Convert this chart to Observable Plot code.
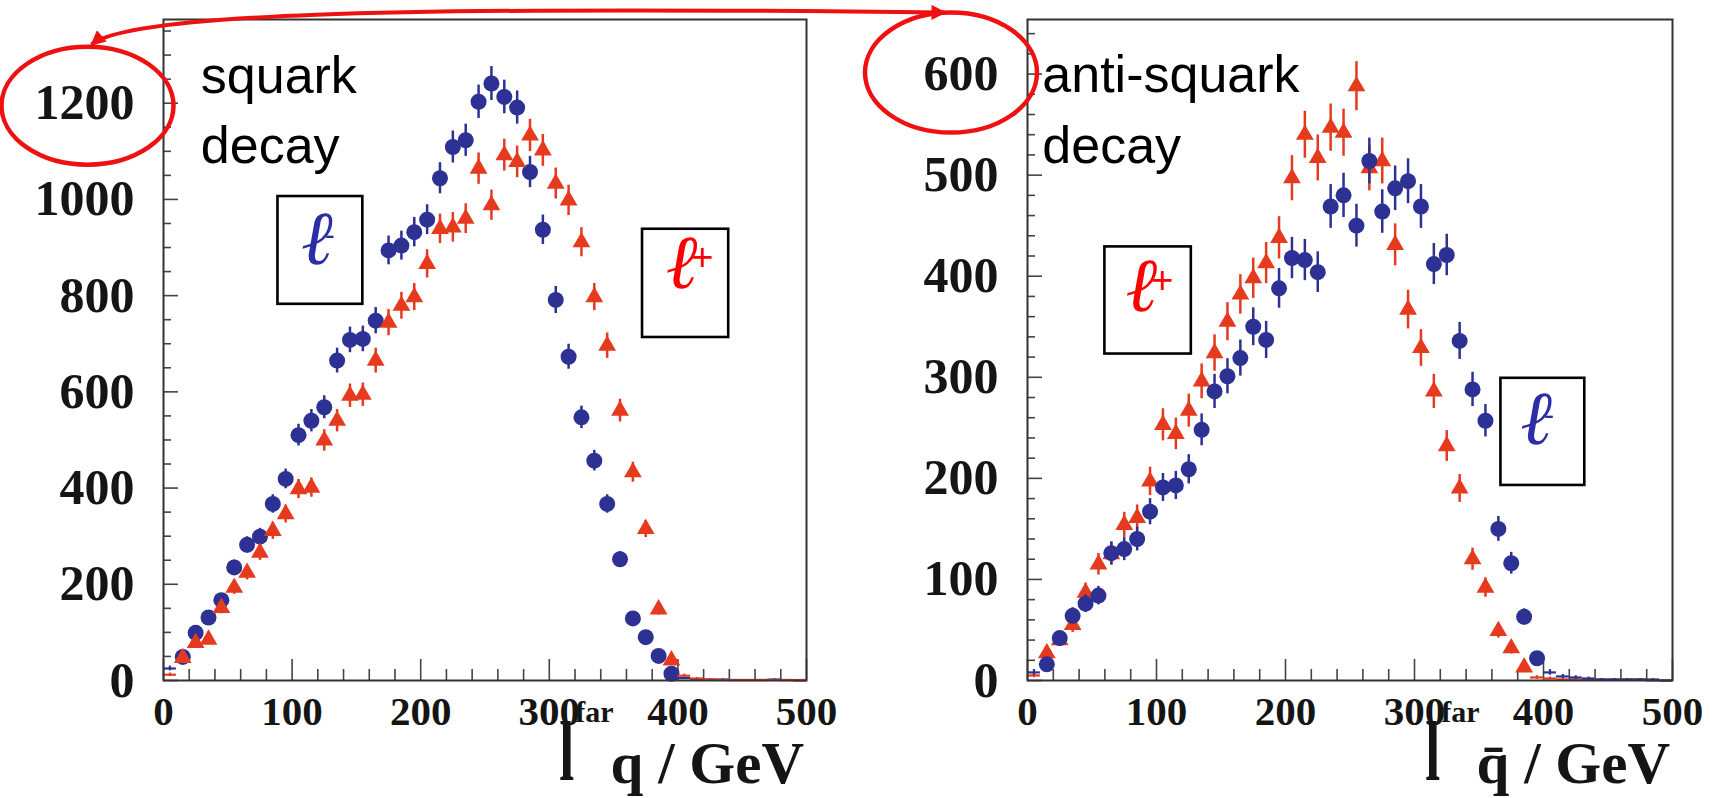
<!DOCTYPE html>
<html><head><meta charset="utf-8">
<script src="https://cdn.jsdelivr.net/npm/d3@7"></script>
<script src="https://cdn.jsdelivr.net/npm/@observablehq/plot@0.6"></script>
<style>
html,body{margin:0;padding:0;background:#fff;}
#wrap{position:relative;width:1716px;height:798px;overflow:hidden;background:#fff;}
#wrap svg.panel{position:absolute;top:0;}
#overlay{position:absolute;left:0;top:0;pointer-events:none;}
</style></head><body><div id="wrap"></div>
<script>
// ---------- data (10 GeV bins) ----------
const bins = [5,15,25,35,45,55,65,75,85,95,105,115,125,135,145,155,165,175,185,195,
  205,215,225,235,245,255,265,275,285,295,305,315,325,335,345,355,365,375,385,395,
  405,415,425,435,445,455,465,475,485,495];
// squark decay
const squarkMinus = [25,49,99,131,167,235,282,299,367,419,510,540,568,665,708,710,748,894,904,932,
  958,1044,1109,1123,1203,1241,1213,1191,1057,937,791,673,547,457,367,252,129,90,51,14,
  5,3,2,2,1,1,1,2,1,0];
const squarkPlus = [12,47,78,85,151,193,224,266,311,346,398,401,499,540,592,594,665,744,779,797,
  866,939,942,960,1064,988,1092,1078,1133,1102,1033,998,911,797,696,561,433,315,148,42,
  10,4,2,1,1,1,1,1,1,1];
// anti-squark decay
const antiMinus = [8,16,42,64,76,84,126,130,140,167,191,193,209,248,286,301,319,350,337,388,
  418,416,404,469,480,450,514,464,487,494,469,412,421,336,288,257,150,116,63,22,
  8,4,3,2,1,1,1,1,1,0];
const antiPlus = [5,27,40,55,87,115,125,154,161,197,253,244,267,296,324,355,382,398,413,438,
  497,540,517,547,542,588,507,514,431,367,329,286,232,190,120,92,49,32,13,3,
  2,1,1,1,1,1,1,1,0,0];

// ticks
const xMajor = [0,100,200,300,400,500];
const xMinor = [20,40,60,80,120,140,160,180,220,240,260,280,320,340,360,380,420,440,460,480];
const yMajorSquark = [0,200,400,600,800,1000,1200];
const yMinorSquark = [50,100,150,250,300,350,450,500,550,650,700,750,850,900,950,1050,1100,1150,1250,1300,1350];
const yMajorAnti = [0,100,200,300,400,500,600];
const yMinorAnti = [20,40,60,80,120,140,160,180,220,240,260,280,320,340,360,380,420,440,460,480,520,540,560,580,620,640];

// text
const squarkText = ["squark", "decay"];
const antiText = ["anti-squark", "decay"];
const minusLabel = "ℓ-";
const plusLabel = "ℓ+";

// ---------- style ----------
const BLUE = "#2d3194", RED = "#e63a1e";
const LBLUE = "#2b2ea6", LRED = "#ff0000";
const ANN = "#ee1111";
const SERIF = "'Liberation Serif','Times New Roman',serif";
const SANS = "'Liberation Sans',Arial,sans-serif";
const H = 798, MT = 19, MB = 118;

function seriesMarks(values, color, symbol, r) {
  const rows = bins.map((x, i) => ({x, v: values[i]}));
  const withMarker = rows.filter(d => d.x > 10 && d.v >= 12);
  const crosses = rows.filter(d => !(d.x > 10 && d.v >= 12));
  const err = d => Math.sqrt(d.v); // Poisson error of the bin count
  return [
    Plot.ruleX(withMarker, {x: "x", y1: d => d.v - err(d), y2: d => d.v + err(d), stroke: color, strokeWidth: 2.5}),
    Plot.dot(withMarker, {x: "x", y: "v", r, symbol, fill: color, stroke: "none"}),
    Plot.ruleY(crosses, {y: "v", x1: d => d.x - 5, x2: d => d.x + 5, stroke: color, strokeWidth: 2.2}),
    Plot.ruleX(crosses, {x: "x", y1: d => Math.max(0, d.v - err(d)), y2: d => d.v + err(d), stroke: color, strokeWidth: 2.2})
  ];
}

function panel(cfg) {
  const plotW = cfg.width - cfg.marginLeft - cfg.marginRight;
  const plotH = H - MT - MB;
  const tick = {stroke: "#444", strokeWidth: 1.6};
  const marks = [
    Plot.rect(cfg.boxes, {x1: "x1", x2: "x2", y1: "y1", y2: "y2", fill: "white", stroke: "#000", strokeWidth: 2.6}),
    Plot.tickY(cfg.yMinor, {y: d => d, insetRight: plotW - 8, ...tick}),
    Plot.tickY(cfg.yMajor, {y: d => d, insetRight: plotW - 15, ...tick}),
    Plot.tickX(xMinor, {x: d => d, insetTop: plotH - 11, ...tick}),
    Plot.tickX(xMajor, {x: d => d, insetTop: plotH - 21, ...tick}),
    Plot.axisY({ticks: cfg.yMajor, tickSize: 0, tickPadding: 29, tickFormat: d3.format("d"), label: null,
      fontSize: 50, fontWeight: "bold", fontFamily: SERIF, fill: "#151515"}),
    Plot.axisX({ticks: xMajor, tickSize: 0, tickPadding: 15, tickFormat: d3.format("d"), label: null,
      fontSize: 41, fontWeight: "bold", fontFamily: SERIF, fill: "#151515"}),
    ...cfg.order.flatMap(s => seriesMarks(s.values, s.color, s.symbol, s.r)),
    Plot.frame({stroke: "#333", strokeWidth: 2}),
    Plot.text(cfg.texts, {x: "x", y: "y", text: "text", textAnchor: "start", lineAnchor: "bottom",
      fontSize: 52, fontFamily: SANS, fill: "#000"}),
    Plot.text(cfg.ells, {x: "x", y: "y", text: "t", fill: "c", fontSize: 76, fontStyle: "italic",
      fontFamily: "'DejaVu Serif',serif", lineAnchor: "middle", textAnchor: "start"})
  ];
  return Plot.plot({
    width: cfg.width, height: H, marginTop: MT, marginBottom: MB,
    marginLeft: cfg.marginLeft, marginRight: cfg.marginRight,
    x: {domain: [0, 500]}, y: {domain: [0, cfg.yMax]},
    style: {background: "transparent", overflow: "visible"},
    marks
  });
}

const wrap = document.getElementById("wrap");

const left = panel({
  width: 858, marginLeft: 163, marginRight: 52, yMax: 1374,
  yMajor: yMajorSquark, yMinor: yMinorSquark,
  order: [
    {values: squarkMinus, color: BLUE, symbol: "circle", r: 8},
    {values: squarkPlus, color: RED, symbol: "triangle", r: 6.6}
  ],
  texts: [{x: 29, y: 1222, text: squarkText[0]}, {x: 29, y: 1075, text: squarkText[1]}],
  boxes: [{x1: 89, x2: 155, y1: 782, y2: 1006}, {x1: 372.5, x2: 439.5, y1: 713, y2: 938}],
  ells: [{x: 107, y: 917, t: minusLabel, c: LBLUE}, {x: 390.5, y: 867, t: plusLabel, c: LRED}]
});
const right = panel({
  width: 858, marginLeft: 169, marginRight: 44, yMax: 654,
  yMajor: yMajorAnti, yMinor: yMinorAnti,
  order: [
    {values: antiPlus, color: RED, symbol: "triangle", r: 6.6},
    {values: antiMinus, color: BLUE, symbol: "circle", r: 8}
  ],
  texts: [{x: 11.5, y: 582, text: antiText[0]}, {x: 11.5, y: 512, text: antiText[1]}],
  boxes: [{x1: 60, x2: 127, y1: 323, y2: 429}, {x1: 367, x2: 432, y1: 193, y2: 299}],
  ells: [{x: 76, y: 390, t: plusLabel, c: LRED}, {x: 382, y: 258, t: minusLabel, c: LBLUE}]
});
left.classList.add("panel"); right.classList.add("panel");
left.style.left = "0px"; right.style.left = "858px";
wrap.appendChild(left); wrap.appendChild(right);

// turn "ℓ+" / "ℓ-" into ℓ with a small raised sign (same text element)
for (const p of [left, right]) {
  [...p.querySelectorAll("text")].filter(el => el.textContent === plusLabel || el.textContent === minusLabel).forEach(el => {
    const sign = el.textContent.slice(-1);
    el.textContent = "ℓ";
    const ts = d3.select(el).append("tspan").attr("font-style", "normal").attr("font-family", SANS);
    if (sign === "+") ts.attr("font-size", 38).attr("dx", -6).attr("dy", -18).text("+");
    else ts.attr("font-size", 30).attr("dx", -8).attr("dy", -19).text("-");
  });
}

// axis titles: tall narrow "l", superscript "far", then q (or q̄) / GeV
function addTitle(p, bar) {
  const sx = p.scale("x");
  const xr = sx.range[1] - 2;
  const g = d3.select(p).append("g").attr("font-family", SERIF).attr("font-weight", "bold").attr("fill", "#151515");
  const t = g.append("text").attr("x", xr).attr("y", 783).attr("text-anchor", "end");
  t.append("tspan").attr("font-size", 30).attr("dy", -61).text("far");
  t.append("tspan").attr("font-size", 59).attr("dy", 61).attr("dx", -3).text(bar ? "q\u0304 / GeV" : "q / GeV");
  const x0 = t.node().getBBox().x;
  g.append("text").attr("transform", `translate(${x0 - 1},780) scale(0.64,1)`)
    .attr("text-anchor", "end").attr("font-size", 84).text("l");
}
addTitle(left, false);
addTitle(right, true);

// annotation overlay: ellipses around the top tick labels + double arrow
function labelCenter(p, txt) {
  const el = [...p.querySelectorAll('g[aria-label="y-axis tick label"] text')].find(e => e.textContent === txt);
  const r = el.getBoundingClientRect(), w = wrap.getBoundingClientRect();
  return {x: r.left - w.left + r.width / 2, y: p.scale("y").apply(+txt)};
}
const L = labelCenter(left, "1200"), R = labelCenter(right, "600");
const le = {x: L.x + 3, y: L.y + 3, rx: 86, ry: 59};
const re = {x: R.x - 10, y: R.y - 1, rx: 86, ry: 60};
const ov = d3.select(wrap).append("svg").attr("id", "overlay").attr("width", 1716).attr("height", 798);
ov.append("defs").append("marker").attr("id", "ah").attr("viewBox", "0 0 10 10")
  .attr("refX", 9).attr("refY", 5).attr("markerWidth", 24).attr("markerHeight", 15)
  .attr("markerUnits", "userSpaceOnUse").attr("orient", "auto-start-reverse")
  .append("path").attr("d", "M0,0 L10,5 L0,10 z").attr("fill", ANN);
for (const e of [le, re]) {
  ov.append("ellipse").attr("cx", e.x).attr("cy", e.y).attr("rx", e.rx).attr("ry", e.ry)
    .attr("fill", "none").attr("stroke", ANN).attr("stroke-width", 4.5);
}
const s = {x: le.x + 4, y: le.y - le.ry - 2}, e = {x: re.x - 6, y: re.y - re.ry};
ov.append("path")
  .attr("d", `M${s.x},${s.y} C${s.x + 35},${s.y - 30} ${s.x + 280},${e.y - 7} ${e.x},${e.y}`)
  .attr("fill", "none").attr("stroke", ANN).attr("stroke-width", 4)
  .attr("marker-start", "url(#ah)").attr("marker-end", "url(#ah)");
</script></body></html>
